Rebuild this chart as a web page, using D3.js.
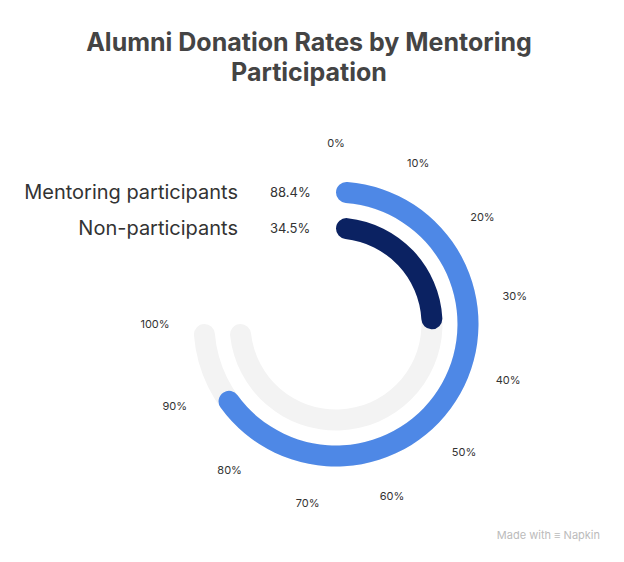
<!DOCTYPE html>
<html>
<head>
<meta charset="utf-8">
<script src="https://cdn.jsdelivr.net/npm/d3@7"></script>
<style>
  body { margin: 0; background: #fff; }
  text { font-family: Inter, "Noto Sans", sans-serif; }
</style>
</head>
<body>
<script>
// data
var groups = ["Mentoring participants", "Non-participants"];
var rates = [88.4, 34.5];
var colors = ["#4E88E6", "#0B2262"];
var tickValues = [0, 10, 20, 30, 40, 50, 60, 70, 80, 90, 100];

var width = 624, height = 562;
var cx = 336, cy = 324;
var barWidth = 21;

var svg = d3.select("body").append("svg")
    .attr("width", width)
    .attr("height", height);

svg.append("text")
    .attr("x", 309).attr("y", 51)
    .attr("text-anchor", "middle")
    .attr("font-size", 25).attr("font-weight", 700)
    .attr("fill", "#444")
    .text("Alumni Donation Rates by Mentoring");
svg.append("text")
    .attr("x", 309).attr("y", 81)
    .attr("text-anchor", "middle")
    .attr("font-size", 25).attr("font-weight", 700)
    .attr("fill", "#444")
    .text("Participation");

var angle = d3.scaleLinear().domain([0, 100]).range([0, 1.5 * Math.PI]);
// ring centre radius per group: outer 132, inner 96
var ringR = d3.scalePoint().domain(groups).range([132, 96]);

var g = svg.append("g").attr("transform", "translate(" + cx + "," + cy + ")");

var arc = d3.arc()
    .innerRadius(function (d) { return ringR(d.group) - barWidth / 2; })
    .outerRadius(function (d) { return ringR(d.group) + barWidth / 2; })
    .startAngle(0)
    .endAngle(function (d) { return angle(d.value); })
    .cornerRadius(barWidth / 2);

var rows = groups.map(function (grp, i) { return { group: grp, value: rates[i], color: colors[i] }; });

// background tracks
g.selectAll("path.track")
    .data(rows.map(function (d) { return { group: d.group, value: 100 }; }))
    .enter().append("path")
    .attr("class", "track")
    .attr("d", arc)
    .attr("fill", "#F3F3F3");

// value bars
g.selectAll("path.bar")
    .data(rows)
    .enter().append("path")
    .attr("class", "bar")
    .attr("d", arc)
    .attr("fill", function (d) { return d.color; });

// tick labels
var labelR = 181;
g.selectAll("text.tick")
    .data(tickValues)
    .enter().append("text")
    .attr("class", "tick")
    .attr("x", function (d) { return labelR * Math.sin(angle(d)); })
    .attr("y", function (d) { return -labelR * Math.cos(angle(d)); })
    .attr("text-anchor", "middle")
    .attr("dy", "0.35em")
    .attr("font-size", 11)
    .attr("fill", "#333")
    .text(function (d) { return d + "%"; });

// row labels
rows.forEach(function (d) {
    var y = cy - ringR(d.group);
    svg.append("text")
        .attr("x", 238).attr("y", y).attr("dy", "0.35em")
        .attr("text-anchor", "end")
        .attr("font-size", 20)
        .attr("fill", "#333")
        .text(d.group);
    svg.append("text")
        .attr("x", 270).attr("y", y).attr("dy", "0.35em")
        .attr("font-size", 13)
        .attr("fill", "#333")
        .text(d.value + "%");
});

svg.append("text")
    .attr("x", 600).attr("y", 539)
    .attr("text-anchor", "end")
    .attr("font-size", 11)
    .attr("fill", "#bbb")
    .text("Made with \u2261 Napkin");
</script>
</body>
</html>
